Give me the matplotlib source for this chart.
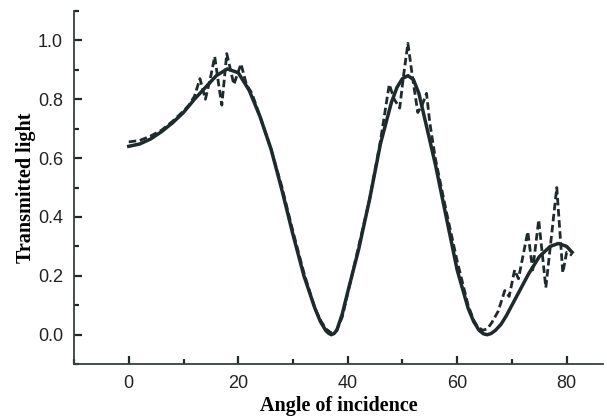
import matplotlib
matplotlib.use("Agg")
import matplotlib.pyplot as plt
from matplotlib.ticker import MultipleLocator

# solid curve (model)
angle_fit = [0, 2, 4, 6, 8, 10, 12, 14, 16, 18, 20, 22, 24, 26, 28, 30, 32, 34, 35, 36,
             36.5, 37, 37.5, 38, 39, 40, 42, 44, 46, 48, 49, 50, 51, 52, 53, 54, 56,
             58, 60, 62, 63, 64, 64.8, 65.5, 66.2, 67, 68, 69, 71, 73, 75, 77, 78.5,
             80, 81]
trans_fit = [0.64, 0.648, 0.665, 0.69, 0.72, 0.755, 0.80, 0.84, 0.88, 0.903, 0.89, 0.83,
             0.74, 0.63, 0.49, 0.34, 0.20, 0.09, 0.045, 0.014,
             0.005, 0.0, 0.004, 0.015, 0.07, 0.145, 0.29, 0.46, 0.65, 0.79, 0.84, 0.87,
             0.88, 0.867, 0.82, 0.74, 0.58,
             0.40, 0.22, 0.09, 0.045, 0.015, 0.003, 0.0, 0.004, 0.015, 0.035, 0.065,
             0.135, 0.205, 0.265, 0.30, 0.31,
             0.30, 0.28]

# dashed curve (measured)
angle_meas = [0, 2, 4, 6, 8, 10, 11, 12, 13, 14, 15, 15.7, 16.5, 17, 17.9, 19.2, 20.5,
              21.5, 22.5, 24, 26, 28, 30, 32, 34, 35, 36, 37, 38, 39, 40, 42, 44, 46,
              47, 47.6, 48.5, 49.5, 50.2, 51, 51.8, 52.8, 53.6, 54.4, 55, 56, 58, 60,
              62, 63, 63.8, 64.7, 65.5, 66.3, 67.5, 68.7, 69.5, 70.5, 71.2, 72.9, 73.8,
              74.9, 76.2, 78.2, 79.3, 80, 81]
trans_meas = [0.655, 0.66, 0.675, 0.695, 0.725, 0.76, 0.78, 0.81, 0.87, 0.80, 0.88, 0.945,
              0.84, 0.78, 0.955, 0.85, 0.92,
              0.85, 0.82, 0.74, 0.63, 0.50, 0.35, 0.21, 0.09, 0.05, 0.02, 0.006, 0.015,
              0.06, 0.14, 0.30, 0.46, 0.66,
              0.78, 0.85, 0.80, 0.77, 0.88, 0.99, 0.88, 0.755, 0.78, 0.82, 0.72, 0.60,
              0.42, 0.25,
              0.10, 0.05, 0.025, 0.015, 0.02, 0.04, 0.08, 0.15, 0.13, 0.22, 0.19, 0.35,
              0.22, 0.39, 0.16, 0.50, 0.21, 0.28, 0.27]

ink = "#1f2a2d"

fig = plt.figure(figsize=(6.07, 4.2), dpi=100)
ax = fig.add_axes([0.122, 0.133, 0.871, 0.841])

ax.plot(angle_meas, trans_meas, color=ink, lw=2.0, ls=(0, (2.7, 1.3)))
ax.plot(angle_fit, trans_fit, color=ink, lw=2.5, solid_joinstyle="round")

ax.set_xlim(-10, 86.6)
ax.set_ylim(-0.1, 1.1)
ax.xaxis.set_major_locator(MultipleLocator(20))
ax.xaxis.set_minor_locator(MultipleLocator(10))
ax.yaxis.set_minor_locator(MultipleLocator(0.1))
ax.set_yticks([0.0, 0.2, 0.4, 0.6, 0.8, 1.0])
ax.set_yticklabels(["0.0", "0.2", "0.4", "0.6", "0.8", "1.0"])

for s in ["top", "right"]:
    ax.spines[s].set_visible(False)
for s in ["left", "bottom"]:
    ax.spines[s].set_linewidth(1.3)
    ax.spines[s].set_color("#36403f")

ax.tick_params(which="major", direction="in", length=6, width=1.6, color=ink,
               labelsize=13, labelcolor="#222222", pad=8)
ax.tick_params(which="minor", direction="in", length=3.5, width=1.6, color=ink)
for lab in ax.get_xticklabels() + ax.get_yticklabels():
    lab.set_family("Liberation Sans")

ax.set_xlabel("Angle of incidence", family="Liberation Serif", fontweight="bold",
              fontsize=14.5, labelpad=3)
ax.set_ylabel("Transmitted light", family="Liberation Serif", fontweight="bold",
              fontsize=14.5, labelpad=1.5)

fig.savefig("out.png", dpi=100)
